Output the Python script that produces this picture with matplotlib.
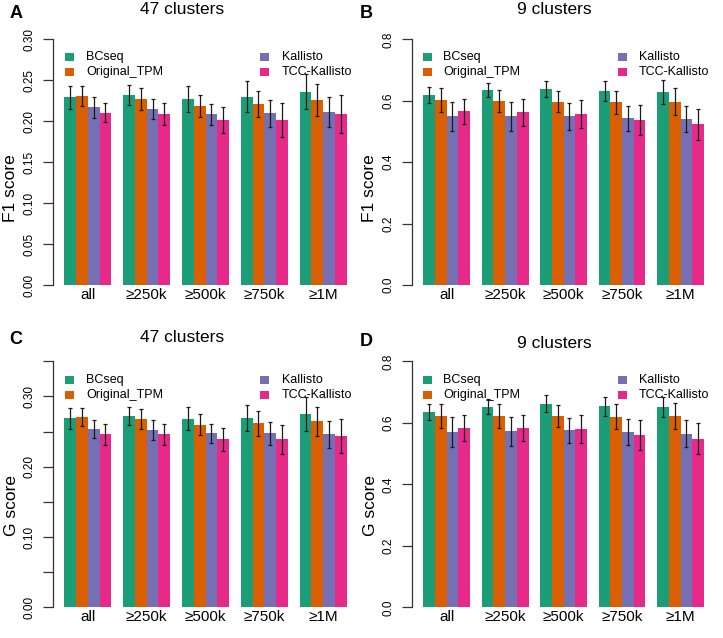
import matplotlib
matplotlib.use("Agg")
import matplotlib.pyplot as plt
import numpy as np
from matplotlib.patches import Rectangle

plt.rcParams['font.family'] = ['Liberation Sans', 'DejaVu Sans']

groups = ["all", "\u2265250k", "\u2265500k", "\u2265750k", "\u22651M"]
methods = ["BCseq", "Original_TPM", "Kallisto", "TCC-Kallisto"]
colors = ["#1B9E77", "#D95F02", "#7570B3", "#E7298A"]

# F1 score, 47 clusters (rows: methods, cols: groups)
f1_47_mean = [
    [0.229, 0.232, 0.227, 0.230, 0.236],
    [0.231, 0.227, 0.219, 0.221, 0.226],
    [0.217, 0.2145, 0.2085, 0.2095, 0.211],
    [0.2105, 0.2085, 0.2015, 0.2015, 0.2085],
]
f1_47_err = [
    [0.0135, 0.0128, 0.0159, 0.0185, 0.0214],
    [0.0126, 0.0136, 0.0136, 0.0159, 0.0193],
    [0.0125, 0.0124, 0.0128, 0.0163, 0.0180],
    [0.0120, 0.0136, 0.0153, 0.0204, 0.0234],
]
# F1 score, 9 clusters
f1_9_mean = [
    [0.619, 0.634, 0.639, 0.632, 0.6285],
    [0.602, 0.600, 0.597, 0.595, 0.597],
    [0.549, 0.549, 0.549, 0.543, 0.541],
    [0.5655, 0.5625, 0.556, 0.537, 0.524],
]
f1_9_err = [
    [0.0255, 0.0234, 0.026, 0.0326, 0.038],
    [0.0396, 0.0358, 0.0336, 0.037, 0.0429],
    [0.0478, 0.0478, 0.045, 0.0412, 0.0418],
    [0.0412, 0.0445, 0.046, 0.0478, 0.0505],
]
# G score, 47 clusters
g_47_mean = [
    [0.269, 0.272, 0.268, 0.270, 0.275],
    [0.271, 0.268, 0.260, 0.262, 0.2645],
    [0.2535, 0.2525, 0.2475, 0.2475, 0.246],
    [0.246, 0.246, 0.239, 0.239, 0.244],
]
g_47_err = [
    [0.0149, 0.0128, 0.0164, 0.0185, 0.0237],
    [0.0130, 0.0142, 0.0152, 0.0178, 0.0204],
    [0.0126, 0.0140, 0.0140, 0.0166, 0.0187],
    [0.0145, 0.0145, 0.0168, 0.0206, 0.0242],
]
# G score, 9 clusters
g_9_mean = [
    [0.635, 0.6515, 0.662, 0.654, 0.6515],
    [0.622, 0.622, 0.622, 0.620, 0.622],
    [0.570, 0.5725, 0.5755, 0.570, 0.565],
    [0.583, 0.583, 0.580, 0.5615, 0.5485],
]
g_9_err = [
    [0.0255, 0.0244, 0.027, 0.031, 0.032],
    [0.038, 0.038, 0.035, 0.040, 0.041],
    [0.048, 0.0466, 0.0418, 0.0434, 0.0434],
    [0.0434, 0.0434, 0.046, 0.0488, 0.050],
]

W, H = 723, 638
fig = plt.figure(figsize=(W / 100, H / 100), dpi=100)


def fx(x):
    return x / W


def fy(y):
    return 1 - y / H


def make_axes(left, right, top, bottom):
    return fig.add_axes([fx(left), fy(bottom), (right - left) / W, (bottom - top) / H])


panels = [
    dict(letter="A", title="47 clusters", ylabel="F1 score", mean=f1_47_mean, err=f1_47_err,
         box=(53, 358, 29.5, 294.8), ymax=0.30, step=0.05, label_every=1, fmt="{:.2f}",
         title_xy=(182, 10), letter_xy=(16, 13), ylab_xy=(11, 188),
         leg_x=(65, 86, 260, 282), leg_y=(57, 72)),
    dict(letter="B", title="9 clusters", ylabel="F1 score", mean=f1_9_mean, err=f1_9_err,
         box=(412, 715.2, 29.5, 294.8), ymax=0.80, step=0.2, label_every=1, fmt="{:.1f}",
         title_xy=(554, 10), letter_xy=(366, 13), ylab_xy=(370, 188),
         leg_x=(423, 443, 618, 639), leg_y=(57, 72)),
    dict(letter="C", title="47 clusters", ylabel="G score", mean=g_47_mean, err=g_47_err,
         box=(53, 358, 351.5, 617.1), ymax=0.35, step=0.05, label_every=2, fmt="{:.2f}",
         title_xy=(182, 337), letter_xy=(16, 340), ylab_xy=(12, 505),
         leg_x=(65, 86, 260, 282), leg_y=(380, 395)),
    dict(letter="D", title="9 clusters", ylabel="G score", mean=g_9_mean, err=g_9_err,
         box=(412, 715.2, 351.5, 617.1), ymax=0.80, step=0.2, label_every=1, fmt="{:.1f}",
         title_xy=(554, 344), letter_xy=(366, 341), ylab_xy=(371, 505),
         leg_x=(423, 443, 618, 639), leg_y=(380, 395)),
]

n_groups = len(groups)
n_methods = len(methods)

for p in panels:
    left, right, top, bottom = p["box"]
    ax = make_axes(left, right, top, bottom)
    ymax = p["ymax"]
    pad = 0.04 * ymax
    ax.set_ylim(-pad, ymax + pad)
    total = n_groups * (n_methods + 1)
    ax.set_xlim(1 - 0.04 * (total - 1), total + 0.04 * (total - 1))

    mean = np.array(p["mean"])
    err = np.array(p["err"])
    for j in range(n_methods):
        xs = np.array([1 + g * (n_methods + 1) + j + 0.5 for g in range(n_groups)])
        ax.bar(xs, mean[j], width=1.0, color=colors[j], linewidth=0, zorder=2)
    for j in range(n_methods):
        xs = np.array([1 + g * (n_methods + 1) + j + 0.5 for g in range(n_groups)])
        ax.errorbar(xs, mean[j], yerr=err[j], fmt="none", ecolor="#1a1a1a",
                    elinewidth=0.9, capsize=1.6, capthick=0.9, zorder=3)

    centers = [1 + g * (n_methods + 1) + n_methods / 2 for g in range(n_groups)]
    ax.set_xticks(centers)
    ax.set_xticklabels(groups, fontsize=11)
    ax.tick_params(axis="x", length=0, pad=0)
    for lab in ax.get_xticklabels():
        lab.set_va("center")

    nt = int(round(ymax / p["step"])) + 1
    ticks = [i * p["step"] for i in range(nt)]
    labels = [p["fmt"].format(t) if i % p["label_every"] == 0 else "" for i, t in enumerate(ticks)]
    ax.set_yticks(ticks)
    ax.set_yticklabels(labels, fontsize=8.5)
    ax.tick_params(axis="y", length=7, width=0.9, color="#333333", pad=5.5)
    for lab in ax.get_yticklabels():
        lab.set_rotation(90)
        lab.set_va("center")

    for s in ["top", "right", "bottom"]:
        ax.spines[s].set_visible(False)
    ax.spines["left"].set_bounds(0, ticks[-1])
    ax.spines["left"].set_color("#333333")
    ax.spines["left"].set_linewidth(0.9)
    ax.patch.set_visible(False)

    # title, panel letter, y label
    fig.text(fx(p["title_xy"][0]), fy(p["title_xy"][1]), p["title"], fontsize=12.5,
             ha="center", va="center")
    fig.text(fx(p["letter_xy"][0]), fy(p["letter_xy"][1]), p["letter"], fontsize=13,
             fontweight="bold", ha="center", va="center")
    fig.text(fx(p["ylab_xy"][0]), fy(p["ylab_xy"][1]), p["ylabel"], fontsize=12.5,
             rotation=90, ha="center", va="center")

    # legend in two columns
    sq_l, tx_l, sq_r, tx_r = p["leg_x"]
    for j, name in enumerate(methods):
        col = j // 2
        row = j % 2
        sqx = sq_l if col == 0 else sq_r
        txx = tx_l if col == 0 else tx_r
        yc = p["leg_y"][row]
        rect = Rectangle((fx(sqx), fy(yc + 4)), 9 / W, 8 / H, transform=fig.transFigure,
                         facecolor=colors[j], edgecolor="none")
        fig.patches.append(rect)
        fig.text(fx(txx), fy(yc), name, fontsize=9, ha="left", va="center")

fig.savefig("out.png", dpi=100)
